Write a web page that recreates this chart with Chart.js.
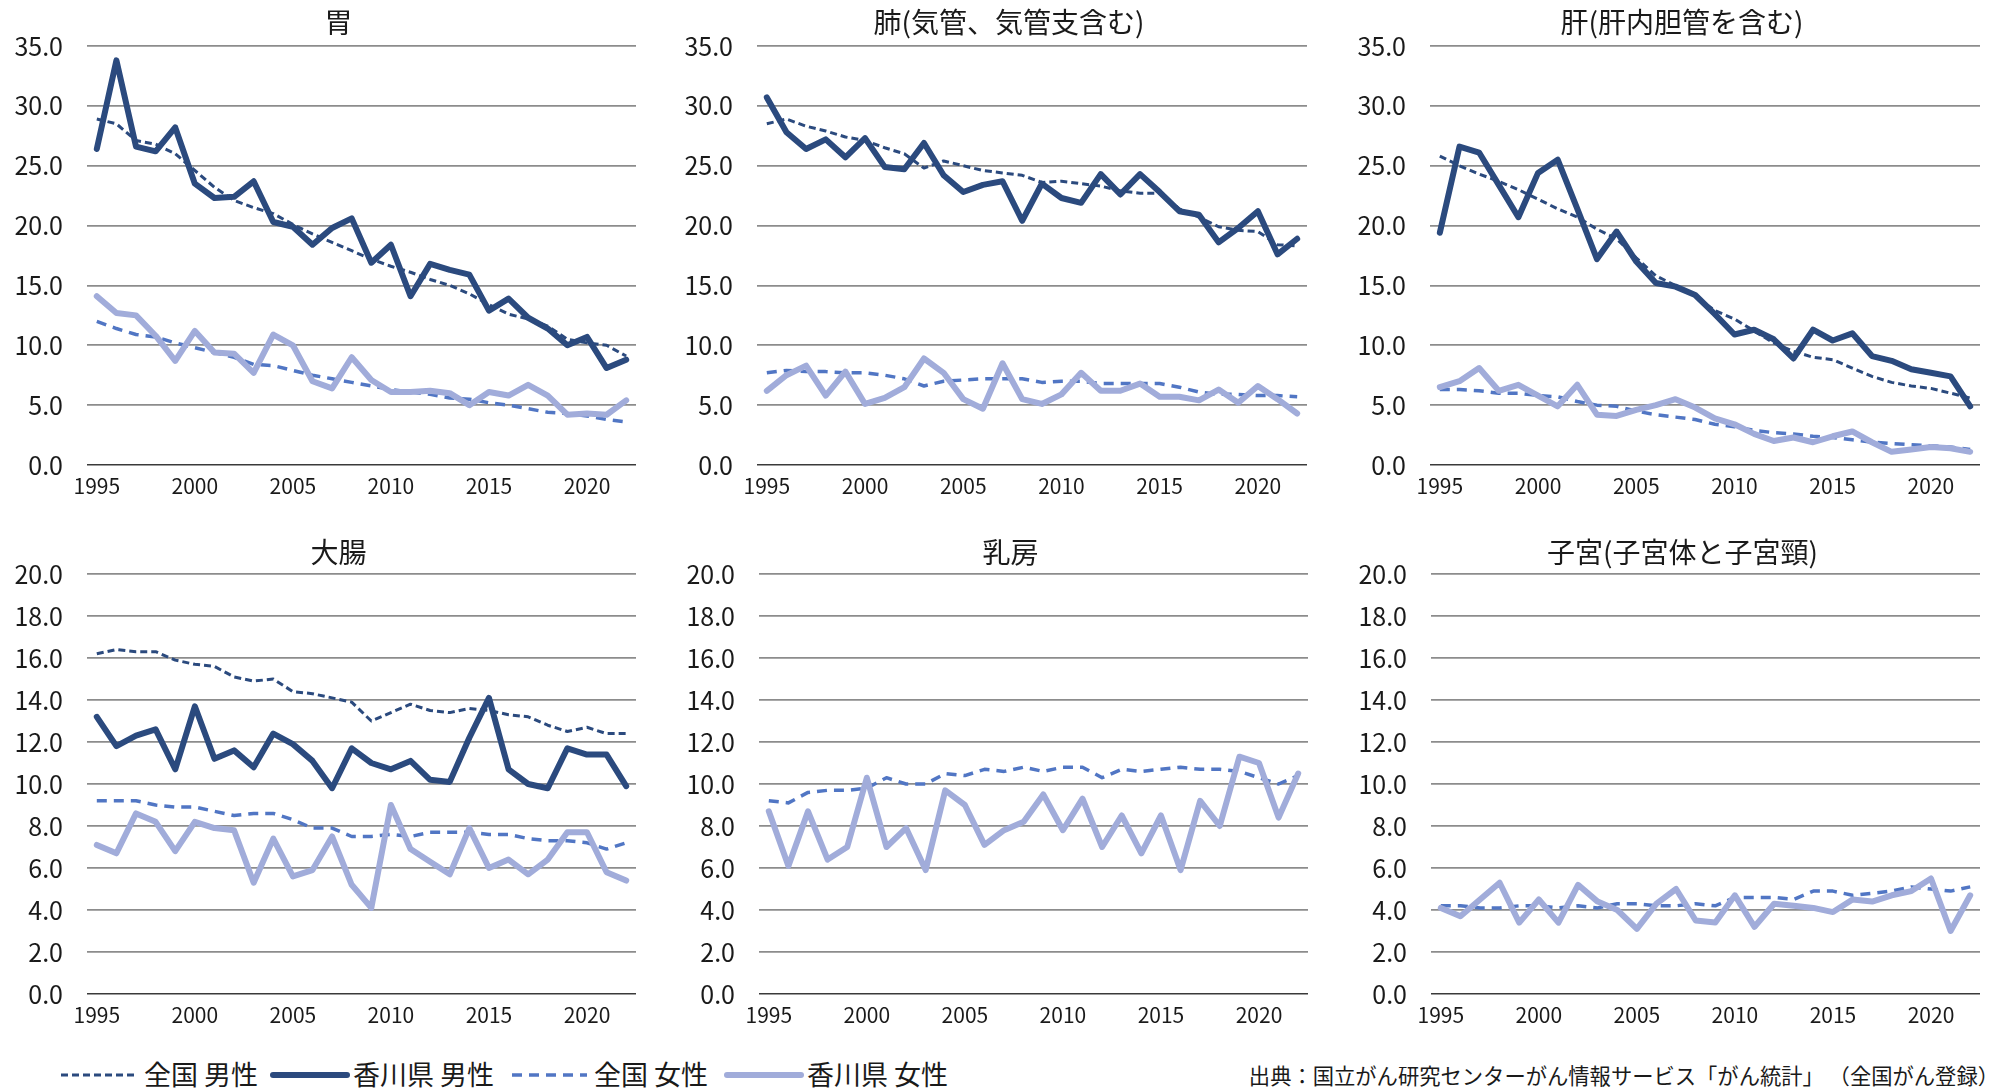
<!DOCTYPE html>
<html lang="ja">
<head>
<meta charset="utf-8">
<title>部位別がん死亡率の推移</title>
<script src="https://cdn.jsdelivr.net/npm/chart.js@4.4.1/dist/chart.umd.min.js"></script>
<style>
  html, body { margin: 0; padding: 0; background: #fff; }
  body {
    width: 1993px; height: 1091px; position: relative; overflow: hidden;
    font-family: "Noto Sans CJK JP", "Noto Sans", sans-serif; color: #1a1a1a;
  }
  .panel { position: absolute; }
  .legend-line { position: absolute; }
  .legend-text { position: absolute; font-size: 27px; line-height: 32px; white-space: nowrap; }
  #source { position: absolute; right: -6px; top: 1061px; font-size: 21.3px; line-height: 28px; white-space: nowrap; }
</style>
</head>
<body>

<div id="panels"></div>
<div id="legend"></div>
<div id="source">出典：国立がん研究センターがん情報サービス「がん統計」 （全国がん登録）</div>

<script>
// 年（カテゴリ）
const years = [1995, 1996, 1997, 1998, 1999, 2000, 2001, 2002, 2003, 2004,
               2005, 2006, 2007, 2008, 2009, 2010, 2011, 2012, 2013, 2014,
               2015, 2016, 2017, 2018, 2019, 2020, 2021, 2022];
const labeledYears = [1995, 2000, 2005, 2010, 2015, 2020];
const seriesNames = ["全国 男性", "香川県 男性", "全国 女性", "香川県 女性"];

// 胃
const stomachNationalMale = [28.9, 28.5, 27.1, 26.8, 26.0, 24.6, 23.2, 22.1, 21.5, 21.0, 20.1, 19.3, 18.6, 17.9, 17.2, 16.6, 16.1, 15.5, 15.0, 14.3, 13.4, 12.6, 12.2, 11.6, 10.5, 10.2, 10.0, 9.1];
const stomachKagawaMale = [26.4, 33.8, 26.6, 26.2, 28.2, 23.5, 22.3, 22.4, 23.7, 20.3, 19.9, 18.4, 19.8, 20.6, 16.9, 18.4, 14.1, 16.8, 16.3, 15.9, 12.9, 13.9, 12.3, 11.4, 10.0, 10.7, 8.1, 8.8];
const stomachNationalFemale = [12.0, 11.4, 10.9, 10.7, 10.2, 9.8, 9.4, 9.0, 8.4, 8.3, 7.9, 7.5, 7.2, 6.9, 6.6, 6.3, 6.1, 5.9, 5.6, 5.5, 5.2, 5.0, 4.7, 4.4, 4.3, 4.1, 3.8, 3.6];
const stomachKagawaFemale = [14.1, 12.7, 12.5, 10.8, 8.7, 11.2, 9.4, 9.3, 7.7, 10.9, 10.0, 7.0, 6.4, 9.0, 7.1, 6.1, 6.1, 6.2, 6.0, 5.0, 6.1, 5.8, 6.7, 5.8, 4.2, 4.3, 4.2, 5.4];

// 肺（気管、気管支含む）
const lungNationalMale = [28.5, 28.9, 28.3, 27.9, 27.4, 27.1, 26.5, 26.0, 24.8, 25.4, 25.0, 24.6, 24.4, 24.2, 23.6, 23.7, 23.5, 23.3, 22.9, 22.7, 22.7, 21.4, 20.7, 19.9, 19.6, 19.5, 18.4, 18.3];
const lungKagawaMale = [30.7, 27.8, 26.4, 27.2, 25.7, 27.3, 24.9, 24.7, 26.9, 24.2, 22.8, 23.4, 23.7, 20.4, 23.5, 22.3, 21.9, 24.3, 22.6, 24.3, 22.8, 21.2, 20.9, 18.6, 19.8, 21.2, 17.6, 18.9];
const lungNationalFemale = [7.7, 7.9, 7.8, 7.8, 7.7, 7.7, 7.5, 7.2, 6.6, 7.0, 7.1, 7.2, 7.2, 7.2, 6.9, 7.0, 7.0, 6.8, 6.8, 6.8, 6.8, 6.5, 6.1, 5.9, 5.9, 5.8, 5.8, 5.7];
const lungKagawaFemale = [6.2, 7.5, 8.3, 5.8, 7.8, 5.1, 5.6, 6.5, 8.9, 7.7, 5.5, 4.7, 8.5, 5.5, 5.1, 5.9, 7.7, 6.2, 6.2, 6.8, 5.7, 5.7, 5.4, 6.3, 5.2, 6.6, 5.5, 4.3];

// 肝（肝内胆管を含む）
const liverNationalMale = [25.8, 25.0, 24.3, 23.7, 23.0, 22.2, 21.4, 20.7, 19.7, 18.9, 17.3, 15.8, 15.0, 14.1, 12.9, 12.2, 11.2, 10.2, 9.5, 9.0, 8.8, 8.1, 7.4, 6.9, 6.6, 6.4, 6.0, 5.6];
const liverKagawaMale = [19.4, 26.6, 26.1, 23.4, 20.7, 24.4, 25.5, 21.4, 17.2, 19.5, 17.0, 15.2, 14.9, 14.2, 12.6, 10.9, 11.3, 10.5, 8.9, 11.3, 10.4, 11.0, 9.1, 8.7, 8.0, 7.7, 7.4, 4.9];
const liverNationalFemale = [6.3, 6.3, 6.2, 6.0, 6.0, 5.8, 5.7, 5.3, 5.0, 4.9, 4.5, 4.2, 4.0, 3.8, 3.4, 3.2, 2.9, 2.7, 2.6, 2.4, 2.3, 2.1, 1.9, 1.8, 1.7, 1.6, 1.5, 1.3];
const liverKagawaFemale = [6.5, 7.0, 8.1, 6.2, 6.7, 5.8, 4.9, 6.7, 4.2, 4.1, 4.6, 5.0, 5.5, 4.8, 3.9, 3.4, 2.6, 2.0, 2.3, 1.9, 2.4, 2.8, 1.9, 1.1, 1.3, 1.5, 1.4, 1.1];

// 大腸
const colonNationalMale = [16.2, 16.4, 16.3, 16.3, 15.9, 15.7, 15.6, 15.1, 14.9, 15.0, 14.4, 14.3, 14.1, 13.9, 13.0, 13.4, 13.8, 13.5, 13.4, 13.6, 13.5, 13.3, 13.2, 12.8, 12.5, 12.7, 12.4, 12.4];
const colonKagawaMale = [13.2, 11.8, 12.3, 12.6, 10.7, 13.7, 11.2, 11.6, 10.8, 12.4, 11.9, 11.1, 9.8, 11.7, 11.0, 10.7, 11.1, 10.2, 10.1, 12.2, 14.1, 10.7, 10.0, 9.8, 11.7, 11.4, 11.4, 9.9];
const colonNationalFemale = [9.2, 9.2, 9.2, 9.0, 8.9, 8.9, 8.7, 8.5, 8.6, 8.6, 8.3, 7.9, 7.9, 7.5, 7.5, 7.6, 7.5, 7.7, 7.7, 7.7, 7.6, 7.6, 7.4, 7.3, 7.3, 7.2, 6.9, 7.2];
const colonKagawaFemale = [7.1, 6.7, 8.6, 8.2, 6.8, 8.2, 7.9, 7.8, 5.3, 7.4, 5.6, 5.9, 7.5, 5.2, 4.1, 9.0, 6.9, 6.3, 5.7, 7.9, 6.0, 6.4, 5.7, 6.4, 7.7, 7.7, 5.8, 5.4];

// 乳房（女性のみ）
const breastNationalFemale = [9.2, 9.1, 9.6, 9.7, 9.7, 9.8, 10.3, 10.0, 10.0, 10.5, 10.4, 10.7, 10.6, 10.8, 10.6, 10.8, 10.8, 10.3, 10.7, 10.6, 10.7, 10.8, 10.7, 10.7, 10.6, 10.3, 10.0, 10.4];
const breastKagawaFemale = [8.7, 6.1, 8.7, 6.4, 7.0, 10.3, 7.0, 7.9, 5.9, 9.7, 9.0, 7.1, 7.8, 8.2, 9.5, 7.8, 9.3, 7.0, 8.5, 6.7, 8.5, 5.9, 9.2, 8.0, 11.3, 11.0, 8.4, 10.5];

// 子宮（子宮体と子宮頸）
const uterusNationalFemale = [4.2, 4.2, 4.1, 4.1, 4.2, 4.2, 4.1, 4.2, 4.1, 4.3, 4.3, 4.2, 4.2, 4.3, 4.2, 4.6, 4.6, 4.6, 4.5, 4.9, 4.9, 4.7, 4.8, 4.9, 5.1, 5.0, 4.9, 5.1];
const uterusKagawaFemale = [4.1, 3.7, 4.5, 5.3, 3.4, 4.5, 3.4, 5.2, 4.4, 4.0, 3.1, 4.3, 5.0, 3.5, 3.4, 4.7, 3.2, 4.3, 4.2, 4.1, 3.9, 4.5, 4.4, 4.7, 4.9, 5.5, 3.0, 4.7];

// 軸の目盛り
const topRowMax = 35, topRowStep = 5;
const bottomRowMax = 20, bottomRowStep = 2;

const FONT = '"Noto Sans CJK JP", "Noto Sans", sans-serif';
const TEXT_COLOR = "#1a1a1a";

// 系列の見た目（凡例の順）
const seriesStyles = [
    { color: "#2b4a7e", width: 3, dash: [7, 4] },
    { color: "#2b4a7e", width: 6, dash: [] },
    { color: "#5176c4", width: 3.5, dash: [10, 7] },
    { color: "#a1acda", width: 6, dash: [] }
];

// 各パネル：プロット領域の位置（px）とタイトルの高さ
const panels = [
    { title: "胃", yMax: topRowMax, yStep: topRowStep, left: 87, right: 636, top: 46, bottom: 465, titleY: 22,
      series: [stomachNationalMale, stomachKagawaMale, stomachNationalFemale, stomachKagawaFemale] },
    { title: "肺(気管、気管支含む)", yMax: topRowMax, yStep: topRowStep, left: 757, right: 1307, top: 46, bottom: 465, titleY: 22,
      series: [lungNationalMale, lungKagawaMale, lungNationalFemale, lungKagawaFemale] },
    { title: "肝(肝内胆管を含む)", yMax: topRowMax, yStep: topRowStep, left: 1430, right: 1980, top: 46, bottom: 465, titleY: 22,
      series: [liverNationalMale, liverKagawaMale, liverNationalFemale, liverKagawaFemale] },
    { title: "大腸", yMax: bottomRowMax, yStep: bottomRowStep, left: 87, right: 636, top: 574, bottom: 994, titleY: 552,
      series: [colonNationalMale, colonKagawaMale, colonNationalFemale, colonKagawaFemale] },
    { title: "乳房", yMax: bottomRowMax, yStep: bottomRowStep, left: 759, right: 1308, top: 574, bottom: 994, titleY: 552,
      series: [null, null, breastNationalFemale, breastKagawaFemale] },
    { title: "子宮(子宮体と子宮頸)", yMax: bottomRowMax, yStep: bottomRowStep, left: 1431, right: 1980, top: 574, bottom: 994, titleY: 552,
      series: [null, null, uterusNationalFemale, uterusKagawaFemale] }
];

const Y_AXIS_WIDTH = 80;
const PAD_RIGHT = 4;
const X_AXIS_HEIGHT = 40;
const TITLE_BLOCK = 46;   // プロット領域の上の余白（タイトル用）
const TITLE_SIZE = 28;
const TITLE_SHIFT = 46;   // タイトル中心 = (プロット左端 - 46 + プロット右端) / 2

// パネルタイトル：プロット領域よりやや左寄りに中央揃え
const panelTitlePlugin = {
    id: "panelTitle",
    afterDraw(chart, args, opts) {
        const { ctx, chartArea } = chart;
        ctx.save();
        ctx.font = TITLE_SIZE + "px " + FONT;
        ctx.fillStyle = TEXT_COLOR;
        ctx.textAlign = "center";
        ctx.textBaseline = "middle";
        ctx.fillText(opts.text, (chartArea.left - TITLE_SHIFT + chartArea.right) / 2, opts.y);
        ctx.restore();
    }
};

const container = document.getElementById("panels");

panels.forEach(p => {
    const div = document.createElement("div");
    div.className = "panel";
    const canvasLeft = p.left - Y_AXIS_WIDTH;
    const canvasTop = p.top - TITLE_BLOCK;
    const w = p.right - p.left + Y_AXIS_WIDTH + PAD_RIGHT;
    const h = p.bottom - canvasTop + X_AXIS_HEIGHT;
    div.style.left = canvasLeft + "px";
    div.style.top = canvasTop + "px";
    const canvas = document.createElement("canvas");
    canvas.width = w;
    canvas.height = h;
    canvas.style.width = w + "px";
    canvas.style.height = h + "px";
    div.appendChild(canvas);
    container.appendChild(div);

    const datasets = [];
    p.series.forEach((values, i) => {
        if (!values) return;
        const st = seriesStyles[i];
        datasets.push({
            label: seriesNames[i],
            data: values,
            borderColor: st.color,
            backgroundColor: st.color,
            borderWidth: st.width,
            borderDash: st.dash,
            borderCapStyle: st.dash.length ? "butt" : "round",
            borderJoinStyle: "round",
            pointRadius: 0,
            pointHoverRadius: 0,
            tension: 0,
            fill: false,
            order: 3 - i   // 後の系列を手前に描く
        });
    });

    new Chart(canvas, {
        type: "line",
        data: { labels: years, datasets: datasets },
        plugins: [panelTitlePlugin],
        options: {
            responsive: false,
            animation: false,
            devicePixelRatio: 1,
            layout: { padding: { left: 0, right: PAD_RIGHT, top: TITLE_BLOCK, bottom: 0 } },
            plugins: {
                legend: { display: false },
                tooltip: { enabled: false },
                title: { display: false },
                panelTitle: { text: p.title, y: p.titleY - canvasTop }
            },
            scales: {
                x: {
                    type: "category",
                    offset: true,
                    grid: { display: false, drawTicks: false },
                    border: { display: false },
                    ticks: {
                        autoSkip: false,
                        maxRotation: 0,
                        minRotation: 0,
                        padding: 8,
                        color: TEXT_COLOR,
                        font: { family: FONT, size: 21 },
                        callback: function(value, index) {
                            const yr = years[index];
                            return labeledYears.includes(yr) ? String(yr) : "";
                        }
                    },
                    afterFit: scale => { scale.height = X_AXIS_HEIGHT; }
                },
                y: {
                    min: 0,
                    max: p.yMax,
                    border: { display: false },
                    grid: {
                        drawTicks: false,
                        color: c => (c.tick && c.tick.value === 0) ? "#3a3a3a" : "#8c8c8c",
                        lineWidth: c => (c.tick && c.tick.value === 0) ? 1.5 : 1.75
                    },
                    ticks: {
                        stepSize: p.yStep,
                        padding: 24,
                        color: TEXT_COLOR,
                        font: { family: FONT, size: 25 },
                        callback: v => Number(v).toFixed(1)
                    },
                    afterFit: scale => { scale.width = Y_AXIS_WIDTH; }
                }
            }
        }
    });
});

// 凡例（4系列共通）
const legendItems = [
    { line: [61, 137], text: 144 },
    { line: [273, 347], text: 353 },
    { line: [512, 587], text: 594 },
    { line: [727, 801], text: 807 }
];
const legendY = 1075;
const legend = document.getElementById("legend");
legendItems.forEach((item, i) => {
    const st = seriesStyles[i];
    const len = item.line[1] - item.line[0];
    const svgNS = "http://www.w3.org/2000/svg";
    const svg = document.createElementNS(svgNS, "svg");
    svg.setAttribute("class", "legend-line");
    svg.setAttribute("width", len + 6);
    svg.setAttribute("height", 20);
    svg.style.left = (item.line[0] - 3) + "px";
    svg.style.top = (legendY - 10) + "px";
    const ln = document.createElementNS(svgNS, "line");
    ln.setAttribute("x1", 3);
    ln.setAttribute("x2", len + 3);
    ln.setAttribute("y1", 10);
    ln.setAttribute("y2", 10);
    ln.setAttribute("stroke", st.color);
    ln.setAttribute("stroke-width", st.width);
    ln.setAttribute("stroke-linecap", st.dash.length ? "butt" : "round");
    if (st.dash.length) ln.setAttribute("stroke-dasharray", st.dash.join(" "));
    svg.appendChild(ln);
    legend.appendChild(svg);

    const span = document.createElement("span");
    span.className = "legend-text";
    span.textContent = seriesNames[i];
    span.style.left = item.text + "px";
    span.style.top = (legendY - 17) + "px";
    legend.appendChild(span);
});
</script>
</body>
</html>
